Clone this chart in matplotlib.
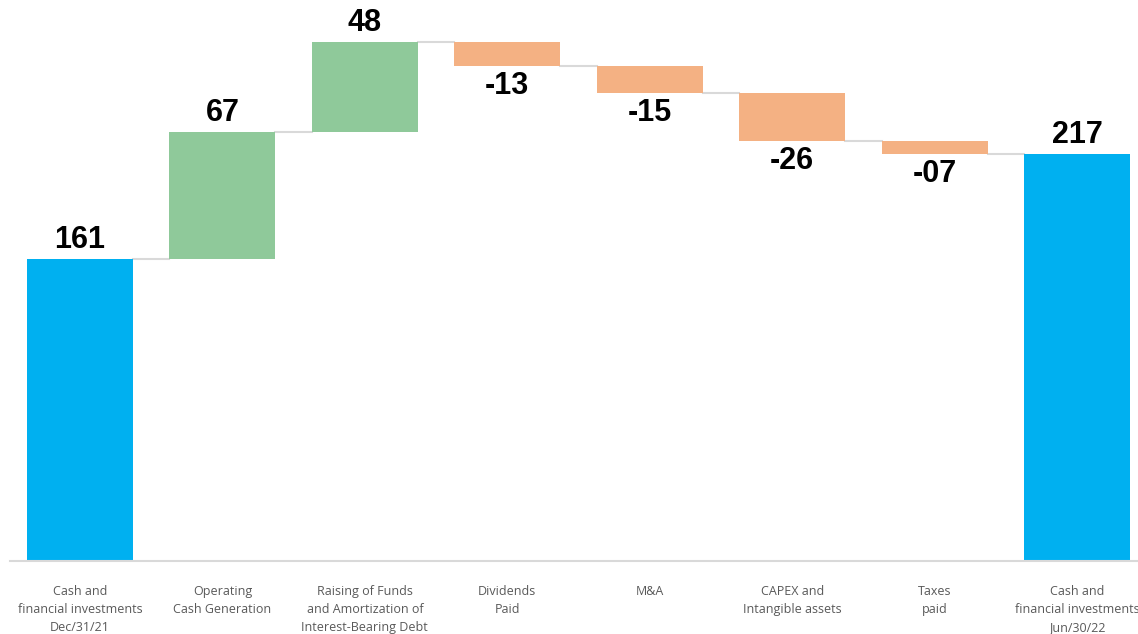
import matplotlib.pyplot as plt
import numpy as np

categories = ['Cash and\nfinancial investments\nDec/31/21',
              'Operating\nCash Generation',
              'Raising of Funds\nand Amortization of\nInterest-Bearing Debt',
              'Dividends\nPaid',
              'M&A',
              'CAPEX and\nIntangible assets',
              'Taxes\npaid',
              'Cash and\nfinancial investments\nJun/30/22']
start_value = 161.0
changes = [67.7, 48.0, -12.8, -14.4, -25.6, -6.9]
end_value = 217.0
value_labels = ['161', '67', '48', '-13', '-15', '-26', '-07', '217']

blue = '#00B0F0'
green = '#8FC99A'
orange = '#F4B183'
connector = '#D9D9D9'

fig = plt.figure(figsize=(11.38, 6.34), dpi=100)
ax = fig.add_axes([0, 0.1151, 1, 0.8849])

x = np.arange(len(categories))
width = 0.745

# running totals
levels = [start_value]
for c in changes:
    levels.append(levels[-1] + c)

bottoms = [0] + [min(levels[i], levels[i + 1]) for i in range(len(changes))] + [0]
heights = [start_value] + [abs(c) for c in changes] + [end_value]
colors = [blue] + [green if c > 0 else orange for c in changes] + [blue]

ax.bar(x, heights, width, bottom=bottoms, color=colors, zorder=2)

# connector lines between bars
for i in range(len(x) - 1):
    lvl = levels[i]
    ax.plot([x[i] + width / 2, x[i + 1] - width / 2], [lvl, lvl],
            color=connector, lw=1.5, zorder=1)

# value labels
signs = [1] + [1 if c > 0 else -1 for c in changes] + [1]
for i, lab in enumerate(value_labels):
    if signs[i] > 0:
        y = bottoms[i] + heights[i] + 2
        va = 'bottom'
    else:
        y = bottoms[i] - 2.5
        va = 'top'
    ax.text(x[i], y, lab, ha='center', va=va, fontsize=22, fontweight='bold',
            family='Liberation Sans', color='black')

ax.set_xlim(-0.5617, 7.428)
ax.set_ylim(0, 299.1)
ax.set_xticks(x)
ax.set_xticklabels(categories, fontsize=9, color='#595959', family='Open Sans',
                   linespacing=1.5)
ax.tick_params(axis='x', length=0, pad=17)
ax.set_yticks([])
for s in ['top', 'right', 'left']:
    ax.spines[s].set_visible(False)
ax.spines['bottom'].set_color('#D9D9D9')
ax.spines['bottom'].set_linewidth(1.5)
ax.spines['bottom'].set_bounds(-0.491, 7.428)

fig.savefig('out.png', dpi=100)
